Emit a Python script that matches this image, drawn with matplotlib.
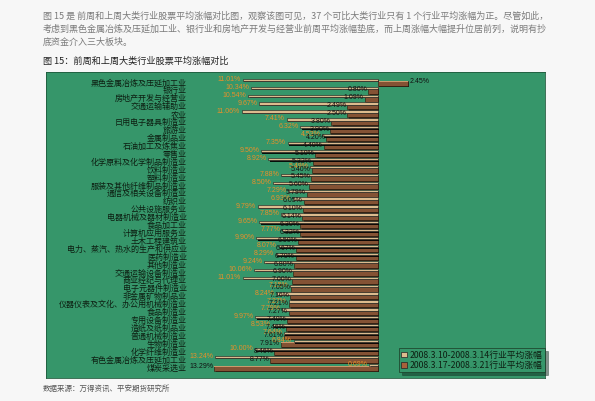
import matplotlib
matplotlib.use('Agg')
import matplotlib.pyplot as plt
from matplotlib.patches import Patch
import matplotlib.patheffects as pe

plt.rcParams['font.family'] = ['Noto Sans CJK SC', 'DejaVu Sans']

categories = [
    '黑色金属冶炼及压延加工业', '银行业', '房地产开发与经营业', '交通运输辅助业', '农业',
    '日用电子器具制造业', '旅游业', '金属制品业', '石油加工及炼焦业', '零售业',
    '化学原料及化学制品制造业', '饮料制造业', '塑料制造业', '服装及其他纤维制品制造业',
    '通信及相关设备制造业', '纺织业', '公共设施服务业', '电器机械及器材制造业', '食品加工业',
    '计算机应用服务业', '土木工程建筑业', '电力、蒸汽、热水的生产和供应业', '医药制造业',
    '其他制造业', '交通运输设备制造业', '商业经纪与代理业', '电子元器件制造业',
    '非金属矿物制品业', '仪器仪表及文化、办公用机械制造业', '食品制造业', '专用设备制造业',
    '造纸及纸制品业', '普通机械制造业', '生物制造业', '化学纤维制造业',
    '有色金属冶炼及压延加工业', '煤炭采选业',
]
# 2008.3.10-2008.3.14 industry average change (%)
prev_week = [
    -11.01, -10.34, -10.54, -9.67, -11.06,
    -7.41, -6.32, -4.53, -7.35, -9.50,
    -8.92, -5.49, -7.88, -8.50,
    -7.29, -6.93, -9.79, -7.85, -9.65,
    -7.77, -9.90, -8.07, -8.29,
    -9.24, -10.06, -11.01, -7.15,
    -8.24, -7.27, -7.79, -9.97,
    -8.53, -7.64, -6.84, -10.00,
    -13.24, -0.69,
]
# 2008.3.17-2008.3.21 industry average change (%)
last_week = [
    2.45, -0.80, -1.09, -2.49, -2.50,
    -3.80, -3.90, -4.20, -4.40, -5.10,
    -5.32, -5.40, -5.45, -5.60,
    -5.79, -6.05, -6.10, -6.14, -6.30,
    -6.32, -6.50, -6.67, -6.70,
    -6.80, -6.90, -7.00, -7.05,
    -7.16, -7.21, -7.27, -7.40,
    -7.46, -7.61, -7.91, -8.46,
    -8.77, -13.29,
]
series_names = ['2008.3.10-2008.3.14行业平均涨幅', '2008.3.17-2008.3.21行业平均涨幅']

paragraph = [
    '图 15 是 前周和上周大类行业股票平均涨幅对比图，观察该图可见，37 个可比大类行业只有 1 个行业平均涨幅为正。尽管如此，',
    '考虑到黑色金属冶炼及压延加工业、银行业和房地产开发与经营业前周平均涨幅垫底，而上周涨幅大幅提升位居前列，说明有抄',
    '底资金介入三大板块。',
]
title = '图 15：前周和上周大类行业股票平均涨幅对比'
source = '数据来源：万得资讯、平安期货研究所'

W, H = 595, 401
fig = plt.figure(figsize=(W / 100, H / 100), dpi=100, facecolor='#f7f7f7')


def fx(px):
    return px / W


def fy(py):
    return 1 - py / H


for k, line in enumerate(paragraph):
    fig.text(fx(43), fy(16 + 13 * k), line, fontsize=6.5, color='#7a7a7a', va='center', ha='left')
fig.text(fx(43), fy(61), title, fontsize=6.6, color='#222222', va='center', ha='left')
fig.text(fx(43), fy(389), source, fontsize=5.4, color='#555555', va='center', ha='left')

GREEN = '#36966a'
bg = fig.add_axes([fx(46), fy(378), fx(545) - fx(46), fy(72) - fy(378)])
bg.set_facecolor(GREEN)
bg.set_xticks([])
bg.set_yticks([])
for s in bg.spines.values():
    s.set_color('#1f5a3c')
    s.set_linewidth(0.6)
bg.set_zorder(0)

ax = fig.add_axes([fx(190), fy(378), fx(545) - fx(190), fy(72) - fy(378)])
ax.set_zorder(1)
ax.set_facecolor('none')
n = len(categories)
ys = list(range(n))
ax.set_xlim(-15.28, 13.58)
ax.set_ylim(n - 1 + 1.39, -1.26)
for s in ax.spines.values():
    s.set_visible(False)
ax.set_xticks([])
ax.set_yticks(ys)
ax.set_yticklabels(categories, fontsize=5.8, color='#0d1f12')
ax.tick_params(axis='y', length=0, pad=2.2)

shadow = [pe.withSimplePatchShadow(offset=(1.0, -1.0), shadow_rgbFace='#000000', alpha=0.9)]

thin_c = [y - 0.27 for y in ys]
thick_c = [y + 0.17 for y in ys]
ax.barh(thick_c, last_week, height=0.6, color='#845234', edgecolor='#2a170b',
        linewidth=0.4, path_effects=shadow, zorder=2)
ax.barh([y - 0.08 for y in ys], last_week, height=0.1, color='#c99a6c',
        linewidth=0, zorder=3)
ax.barh(thin_c, prev_week, height=0.28, color='#dcbb8e', edgecolor='#1a1a1a',
        linewidth=0.4, path_effects=shadow, zorder=4)

for y, v in zip(ys, prev_week):
    ax.text(v - 0.15, y - 0.33, f'{abs(v):.2f}%', fontsize=5.0, color='#e8902a',
            ha='right', va='center', family=['Liberation Sans', 'DejaVu Sans'], zorder=6)
for y, v in zip(ys, last_week):
    if v >= 0:
        ax.text(v + 0.15, y + 0.0, f'{abs(v):.2f}%', fontsize=5.0, color='#111111',
                ha='left', va='center', family=['Liberation Sans', 'DejaVu Sans'], zorder=6)
    else:
        ax.text(v - 0.05, y + 0.0, f'{abs(v):.2f}%', fontsize=5.0, color='#111111',
                ha='right', va='center', family=['Liberation Sans', 'DejaVu Sans'], zorder=6)

handles = [Patch(facecolor='#dcbb8e', edgecolor='#222222', linewidth=0.5),
           Patch(facecolor='#a8603a', edgecolor='#222222', linewidth=0.5)]
leg = ax.legend(handles, series_names, loc='lower right', bbox_to_anchor=(fx(545), fy(372)),
                bbox_transform=fig.transFigure, fontsize=6.3, frameon=True, fancybox=False,
                shadow=True, handlelength=0.6, handleheight=0.6, handletextpad=0.4,
                borderpad=0.25, labelspacing=0.15, borderaxespad=0)
leg.get_frame().set_facecolor(GREEN)
leg.get_frame().set_edgecolor('#1a3a25')
leg.get_frame().set_linewidth(0.5)
leg.set_zorder(10)
for t in leg.get_texts():
    t.set_color('#0d1f12')

fig.savefig('out.png', dpi=100, facecolor=fig.get_facecolor())
